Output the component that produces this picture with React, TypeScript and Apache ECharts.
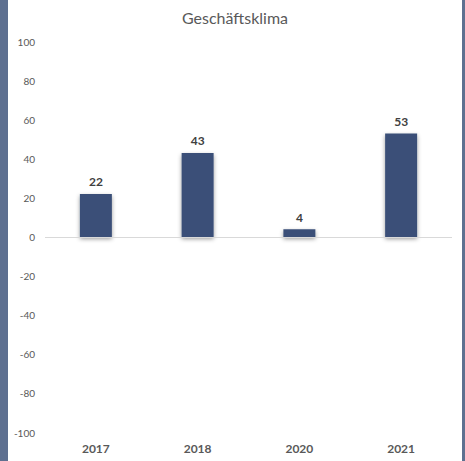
import React, { useEffect, useRef } from "react";
import * as echarts from "echarts";

const categories = ["2017", "2018", "2020", "2021"];
const values = [22, 43, 4, 53];
const yTicks = { min: -100, max: 100, interval: 20 };
const title = "Geschäftsklima";

export default function App() {
  const ref = useRef<HTMLDivElement>(null);
  useEffect(() => {
    if (!ref.current) return;
    const chart = echarts.init(ref.current, null, { renderer: "svg" });
    chart.setOption({
      animation: false,
      backgroundColor: "#ffffff",
      textStyle: { fontFamily: "Lato" },
      title: {
        text: title,
        left: "center",
        top: 4,
        textStyle: { fontFamily: "Lato", fontSize: 16, fontWeight: "normal", color: "#595959" },
      },
      grid: { left: 37, right: 10, top: 41.5, bottom: 28.5 },
      xAxis: {
        type: "category",
        data: categories,
        axisLine: { show: false, onZero: false },
        axisTick: { show: false },
        axisLabel: { fontFamily: "Lato", fontSize: 12, fontWeight: "bold", color: "#595959", margin: 10 },
      },
      yAxis: {
        type: "value",
        min: yTicks.min,
        max: yTicks.max,
        interval: yTicks.interval,
        splitLine: { show: false },
        axisLine: { show: false },
        axisTick: { show: false },
        axisLabel: { fontFamily: "Lato", fontSize: 10, color: "#595959", margin: 10 },
      },
      series: [
        {
          type: "bar",
          data: values,
          barWidth: 32,
          itemStyle: {
            color: "#3b5078",
            shadowColor: "rgba(0,0,0,0.4)",
            shadowBlur: 4,
            shadowOffsetY: 2,
          },
          label: {
            show: true,
            position: "top",
            distance: 6,
            fontFamily: "Lato",
            fontSize: 12,
            fontWeight: "bold",
            color: "#404040",
          },
          markLine: {
            silent: true,
            symbol: "none",
            label: { show: false },
            lineStyle: { color: "#d9d9d9", width: 1, type: "solid" },
            data: [{ yAxis: 0 }],
          },
        },
      ],
    });
    return () => chart.dispose();
  }, []);
  return (
    <div style={{ position: "fixed", left: 0, top: 0, width: 465, height: 461, background: "#5e7090" }}>
      <div ref={ref} style={{ position: "absolute", left: 8, top: 0, width: 454, height: 461 }} />
    </div>
  );
}
